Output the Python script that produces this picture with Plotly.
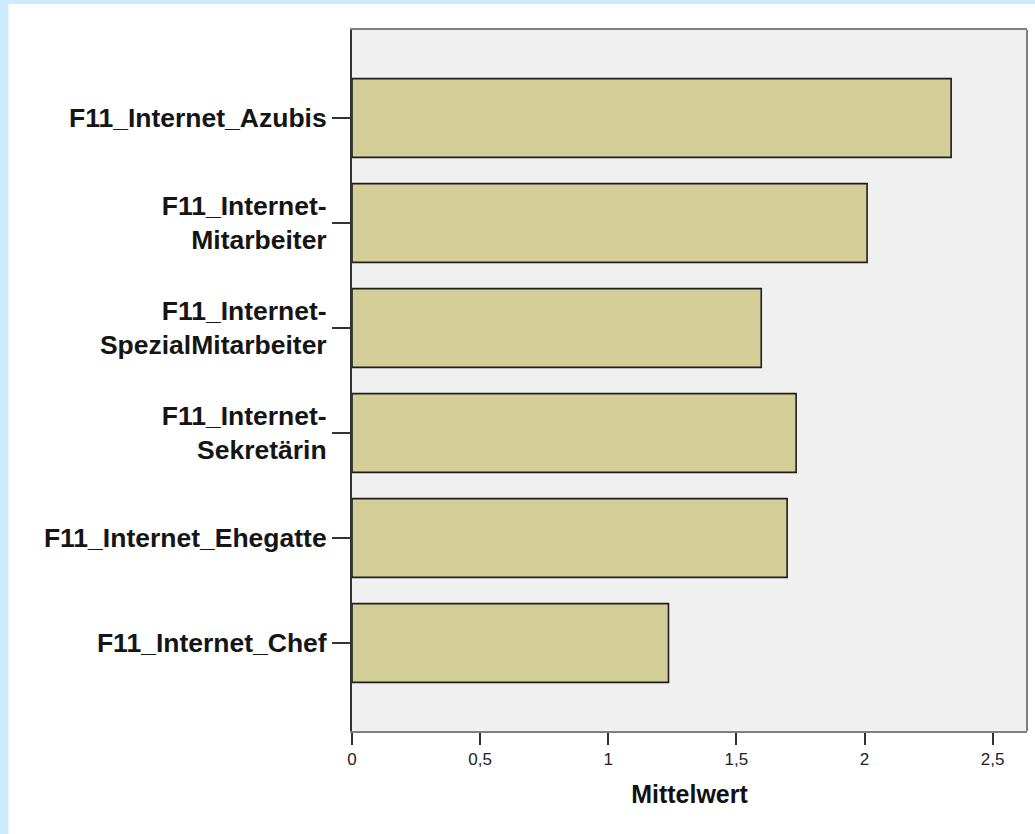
import plotly.graph_objects as go

categories = [
    "F11_Internet_Azubis",
    "F11_Internet-_Mitarbeiter",
    "F11_Internet-_SpezialMitarbeiter",
    "F11_Internet-_Sekretärin",
    "F11_Internet_Ehegatte",
    "F11_Internet_Chef",
]
tick_labels = [
    "F11_Internet_Azubis",
    "F11_Internet-<br>Mitarbeiter",
    "F11_Internet-<br>SpezialMitarbeiter",
    "F11_Internet-<br>Sekretärin",
    "F11_Internet_Ehegatte",
    "F11_Internet_Chef",
]
means = [2.338, 2.010, 1.597, 1.733, 1.698, 1.235]
x_ticks = [0, 0.5, 1, 1.5, 2, 2.5]

fig = go.Figure(
    go.Bar(
        y=categories,
        x=means,
        orientation="h",
        marker=dict(color="#D3CE97", line=dict(color="#1e1e1e", width=1.6)),
        hoverinfo="x+y",
    )
)

fig.update_layout(
    width=1035,
    height=834,
    margin=dict(l=352, r=8, t=30, b=103),
    paper_bgcolor="#FFFFFF",
    plot_bgcolor="#F0F0F0",
    separators=",.",
    bargap=0.25,
    showlegend=False,
    font=dict(family="Liberation Sans, Arial, sans-serif", color="#111111"),
    xaxis=dict(
        range=[0, 2.634],
        tickvals=x_ticks,
        ticks="outside",
        ticklen=12,
        tickwidth=2,
        tickcolor="#333333",
        showgrid=False,
        zeroline=False,
        showline=True,
        linecolor="#808080",
        linewidth=2,
        mirror=True,
        tickfont=dict(size=17, color="#222222"),
        title=dict(
            text="<b>Mittelwert</b>",
            font=dict(size=25, color="#111111"),
            standoff=17,
        ),
    ),
    yaxis=dict(
        type="category",
        categoryorder="array",
        categoryarray=categories,
        tickvals=categories,
        ticktext=["<b>" + t.replace("<br>", "</b><br><b>") + "</b>" for t in tick_labels],
        range=[5.838, -0.838],
        ticks="outside",
        ticklen=18,
        tickwidth=2,
        tickcolor="#333333",
        showgrid=False,
        zeroline=False,
        showline=True,
        linecolor="#333333",
        linewidth=2,
        tickfont=dict(size=26.5, color="#151515"),
    ),
    shapes=[
        dict(type="line", xref="paper", yref="paper", x0=1, x1=1, y0=0, y1=1,
             line=dict(color="#808080", width=2), layer="above"),
        dict(type="rect", xref="paper", yref="paper",
             x0=-352 / 676, x1=(1035 - 352) / 676 + 0.01,
             y0=(731 - 4) / 701, y1=(731 + 10) / 701,
             fillcolor="#CCEBFF", line=dict(width=0), layer="above"),
        dict(type="rect", xref="paper", yref="paper",
             x0=-352 / 676 - 0.01, x1=(8 - 352) / 676,
             y0=-110 / 701, y1=(731 + 10) / 701,
             fillcolor="#CCEBFF", line=dict(width=0), layer="above"),
    ],
)

fig.write_html(
    "out.html",
    config={"displayModeBar": False},
    post_script="document.body.style.margin='0';document.body.style.overflow='hidden';",
)
